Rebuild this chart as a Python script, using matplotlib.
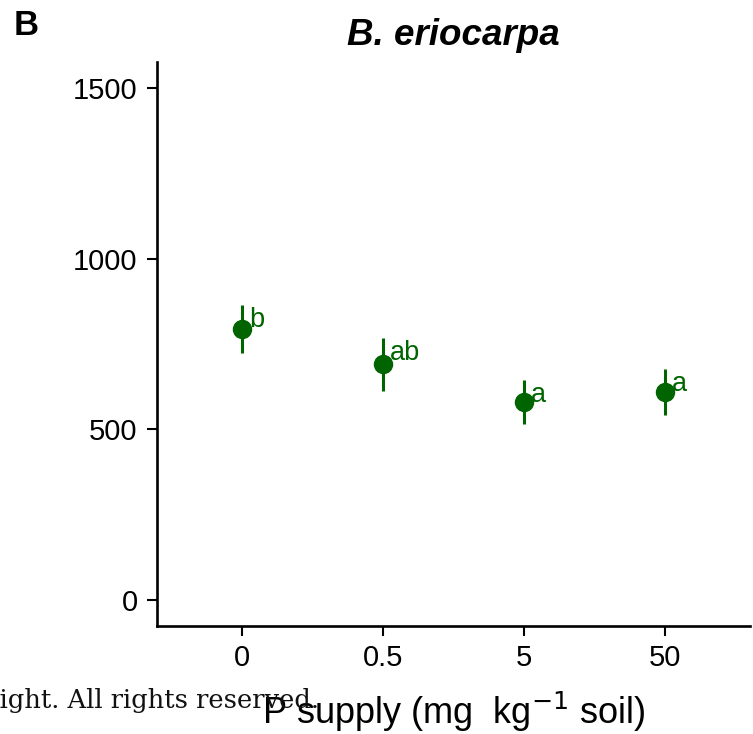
import matplotlib
matplotlib.use("Agg")
import matplotlib.pyplot as plt

plt.rcParams['font.family'] = ['Liberation Sans', 'DejaVu Sans']

p_supply = ["0", "0.5", "5", "50"]
mean_value = [795, 691, 580, 609]
se_value = [70, 78, 64, 67]
letters = ["b", "ab", "a", "a"]
yticks = [0, 500, 1000, 1500]

green = "#006400"

fig = plt.figure(figsize=(7.53, 7.34), dpi=100)
ax = fig.add_axes([0.2085, 0.147, 0.7875, 0.7685])

x = list(range(len(p_supply)))
ax.errorbar(x, mean_value, yerr=se_value, fmt='o', color=green,
            ecolor=green, elinewidth=2.2, markersize=13, capsize=0, zorder=3)

# significance letters sit just right of the top of each error bar
for xi, m, s, lab in zip(x, mean_value, se_value, letters):
    ax.text(xi + 0.05, m + s - 6, lab, color=green, fontsize=19.5,
            ha='left', va='top')

ax.set_xlim(-0.6, len(p_supply) - 0.4)
ax.set_ylim(-76, 1576)
ax.set_xticks(x)
ax.set_xticklabels(p_supply)
ax.set_yticks(yticks)

for side in ['top', 'right']:
    ax.spines[side].set_visible(False)
for side in ['left', 'bottom']:
    ax.spines[side].set_linewidth(1.9)

ax.tick_params(axis='both', labelsize=21, length=7, width=1.5, color='black')
ax.tick_params(axis='y', pad=7)
ax.tick_params(axis='x', pad=6)

ax.set_title("B. eriocarpa", fontsize=26.5, fontweight='bold', style='italic',
             pad=12)
ax.set_xlabel(r"P supply (mg  kg$^{-1}$ soil)", fontsize=26, labelpad=13)

fig.text(0.018, 0.988, "B", fontsize=25, fontweight='bold', ha='left', va='top')
fig.text(0.423, 0.036, "Copyright. All rights reserved.", family='DejaVu Serif',
         fontsize=18.5, ha='right', va='baseline', color='#111111')

fig.savefig("out.png", dpi=100)
